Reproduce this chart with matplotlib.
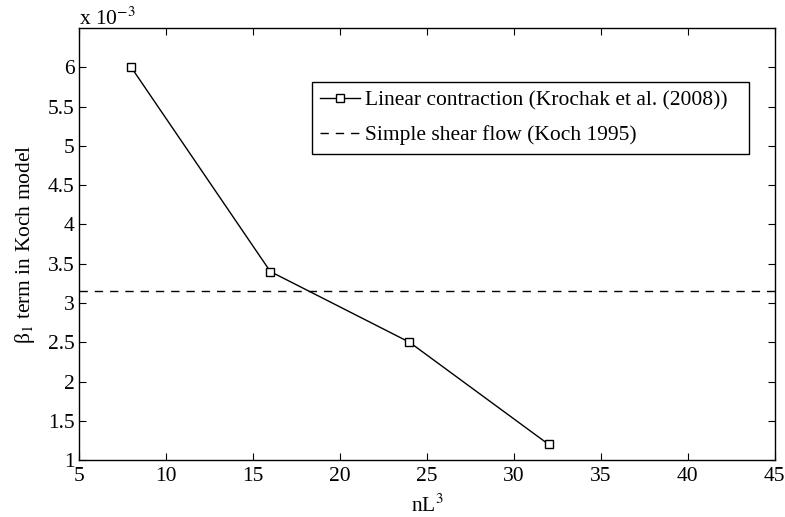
import matplotlib
matplotlib.use("Agg")
import matplotlib.pyplot as plt
from matplotlib.ticker import FormatStrFormatter

# data, y values in units of 10^-3
nl3 = [8, 16, 24, 32]
beta1 = [6.0, 3.4, 2.5, 1.2]
beta1_shear = 3.15

x_ticks = [5, 10, 15, 20, 25, 30, 35, 40, 45]
y_ticks = [1, 1.5, 2, 2.5, 3, 3.5, 4, 4.5, 5, 5.5, 6]

plt.rcParams["font.family"] = ["Liberation Serif", "DejaVu Serif"]
plt.rcParams["mathtext.fontset"] = "stix"
plt.rcParams["font.size"] = 15.5

fig = plt.figure(figsize=(7.85, 5.17), dpi=100)
ax = fig.add_axes([0.1006, 0.110, 0.8864, 0.836])

ax.plot(nl3, beta1, "k-", lw=1.0, marker="s", ms=5.5, mfc="white", mec="black",
        mew=1.0, label="Linear contraction (Krochak et al. (2008))")
ax.axhline(beta1_shear, color="black", lw=1.0, dashes=(6, 5),
           label="Simple shear flow (Koch 1995)")

ax.set_xlim(5, 45)
ax.set_ylim(1, 6.5)
ax.set_xticks(x_ticks)
ax.set_yticks(y_ticks)
ax.yaxis.set_major_formatter(FormatStrFormatter("%g"))
ax.tick_params(direction="in", top=True, right=True, length=5, width=0.8)
ax.tick_params(axis="x", pad=5)
ax.tick_params(axis="y", pad=3)
for s in ax.spines.values():
    s.set_linewidth(1.0)

ax.set_xlabel("nL$^3$", labelpad=6)
ax.set_ylabel("β$_1$ term in Koch model", labelpad=8)
ax.text(0.0, 0.995, r"x 10$^{-3}$", transform=ax.transAxes, ha="left", va="bottom")

leg = ax.legend(loc="upper left", bbox_to_anchor=(0.3348, 0.5, 0.628, 0.375),
                mode="expand", fancybox=False, framealpha=1, edgecolor="black",
                numpoints=1, handlelength=1.86, handletextpad=0.23, borderpad=0.38,
                labelspacing=0.7, borderaxespad=0)
leg.get_frame().set_linewidth(1.0)

fig.savefig("out.png", dpi=100)
plt.close(fig)
